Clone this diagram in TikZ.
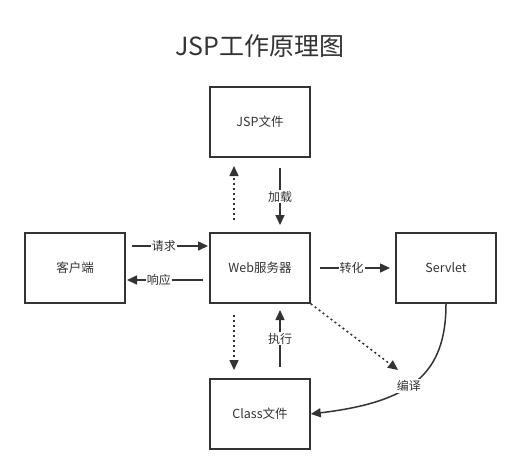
\documentclass[tikz,border=0pt]{standalone}
\usepackage{fontspec}
\setmainfont{Noto Sans CJK SC}
\usetikzlibrary{arrows.meta}
\definecolor{ln}{HTML}{333333}
\tikzset{
  box/.style={draw=ln, line width=1.5pt, minimum width=100pt, minimum height=70pt, inner sep=0pt, font=\fontsize{12.5}{14}\selectfont, text=ln},
  conn/.style={draw=ln, line width=1.5pt, -{Triangle[length=10pt,width=9pt]}},
  dotconn/.style={conn, dash pattern=on 2pt off 3pt},
  lbl/.style={fill=white, inner sep=1pt, font=\fontsize{12}{14}\selectfont, text=ln}
}
\begin{document}
\begin{tikzpicture}[x=1pt,y=-1pt]
\useasboundingbox (0,0) rectangle (521,474);
\node[font=\fontsize{25}{29}\selectfont, text=ln] (title) at (260,46) {JSP工作原理图};
\node[box] (jsp) at (260,122) {JSP文件};
\node[box] (client) at (75,268) {客户端};
\node[box] (web) at (260,268) {Web服务器};
\node[box] (servlet) at (446,268) {Servlet};
\node[box] (class) at (260,414) {Class文件};
% coordinates for free ends
\coordinate (a1) at (234,220);
\coordinate (a2) at (234,166);
\draw[dotconn] (a1) -- (a2);
\coordinate (b1) at (280,168);
\coordinate (b2) at (280,225);
\draw[conn] (b1) -- node[lbl]{加载} (b2);
\coordinate (c1) at (132,246);
\coordinate (c2) at (208,246);
\draw[conn] (c1) -- node[lbl, pos=0.42]{请求} (c2);
\coordinate (d1) at (203,280);
\coordinate (d2) at (127,280);
\draw[conn] (d1) -- node[lbl, pos=0.58]{响应} (d2);
\coordinate (e1) at (320,268);
\coordinate (e2) at (390,268);
\draw[conn] (e1) -- node[lbl, pos=0.45]{转化} (e2);
\coordinate (f1) at (234,315);
\coordinate (f2) at (234,370);
\draw[dotconn] (f1) -- (f2);
\coordinate (g1) at (280,367);
\coordinate (g2) at (280,310);
\draw[conn] (g1) -- node[lbl]{执行} (g2);
\coordinate (h2) at (398,370);
\draw[dotconn] (web.south east) -- (h2);
\draw[conn] (servlet.south) .. controls (446,375) and (410,402) .. node[lbl, pos=0.55]{编译} (class.east);
\end{tikzpicture}
\end{document}
